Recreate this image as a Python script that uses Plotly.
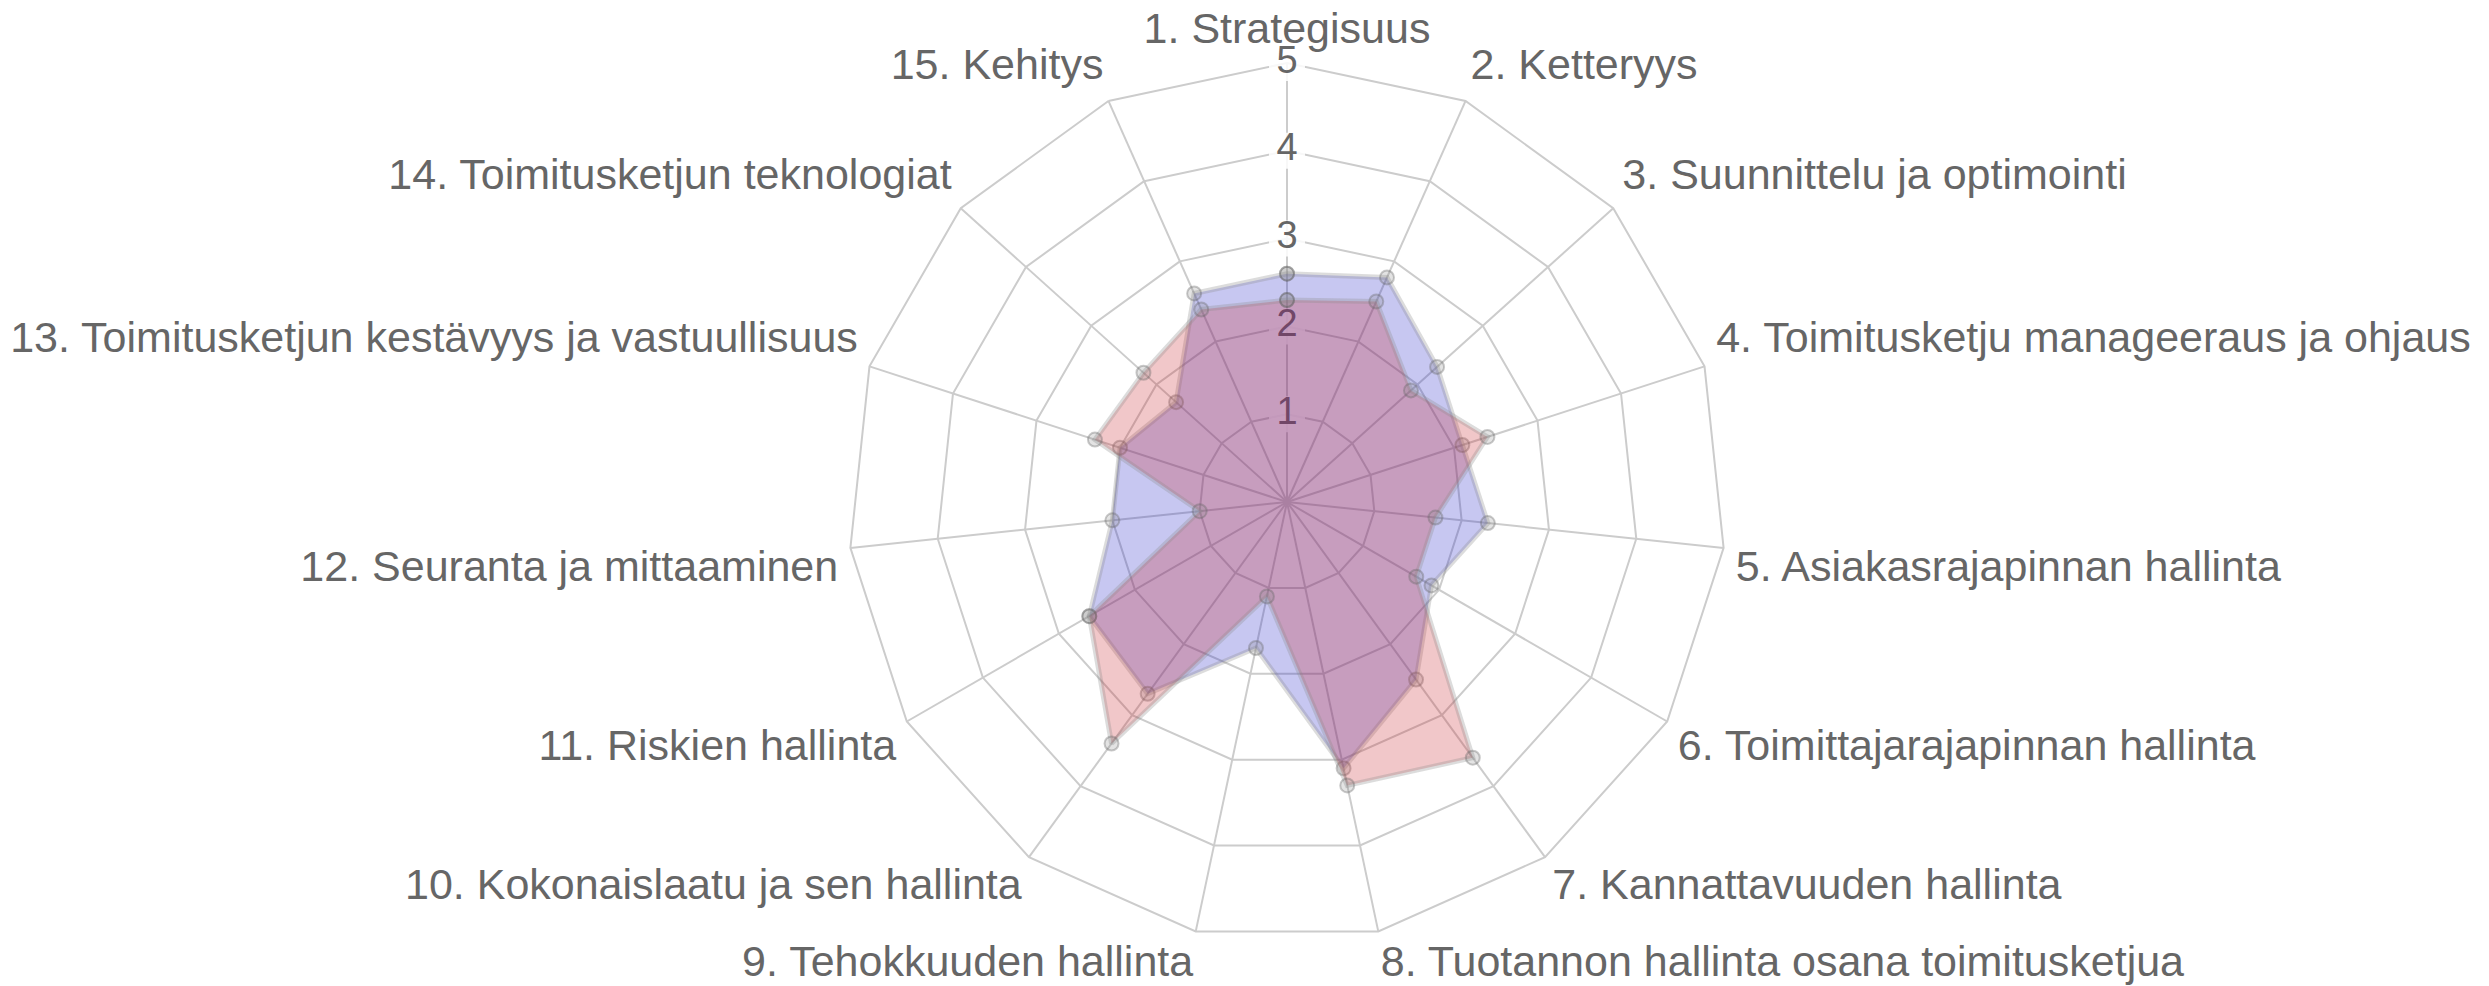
import plotly.graph_objects as go

categories = [
    "1. Strategisuus",
    "2. Ketteryys",
    "3. Suunnittelu ja optimointi",
    "4. Toimitusketju manageeraus ja ohjaus",
    "5. Asiakasrajapinnan hallinta",
    "6. Toimittajarajapinnan hallinta",
    "7. Kannattavuuden hallinta",
    "8. Tuotannon hallinta osana toimitusketjua",
    "9. Tehokkuuden hallinta",
    "10. Kokonaislaatu ja sen hallinta",
    "11. Riskien hallinta",
    "12. Seuranta ja mittaaminen",
    "13. Toimitusketjun kestävyys ja vastuullisuus",
    "14. Toimitusketjun teknologiat",
    "15. Kehitys",
]

blue_values = [2.6, 2.8, 2.3, 2.1, 2.3, 1.9, 2.5, 3.1, 1.7, 2.7, 2.6, 2.0, 2.0, 1.7, 2.6]
red_values = [2.3, 2.5, 1.9, 2.4, 1.7, 1.7, 3.6, 3.3, 1.1, 3.4, 2.6, 1.0, 2.3, 2.2, 2.4]

radial_ticks = [1, 2, 3, 4, 5]
radial_tick_labels = ["1", "2", "3", "4", "5"]
r_max = 5
r_label = 5.14

W, H = 2489, 986
cx, cy, R5 = 1279, 494, 439
R = R5 * r_label / r_max
FONT = "Liberation Sans, Arial, sans-serif"
GRID = "#cccccc"

n = len(categories)
label_positions = []
label_r = []
for i in range(n):
    a = 360.0 * i / n
    if a == 0:
        label_positions.append("top center")
        label_r.append(r_label - 0.03)
    elif a < 90:
        label_positions.append("top right")
        label_r.append(r_label)
    elif a < 180:
        label_positions.append("bottom right")
        label_r.append(r_label)
    elif a < 270:
        label_positions.append("bottom left")
        label_r.append(r_label)
    else:
        label_positions.append("top left")
        label_r.append(r_label)

fig = go.Figure()

# spokes from the centre to the outer ring
spoke_r, spoke_t = [], []
for c in categories:
    spoke_r += [0, r_max, None]
    spoke_t += [c, c, None]
fig.add_trace(go.Scatterpolar(
    r=spoke_r, theta=spoke_t, mode="lines",
    line=dict(color=GRID, width=2), hoverinfo="skip", showlegend=False, connectgaps=False,
))

# tick label backdrops and labels (drawn below the fills)
fig.add_trace(go.Scatterpolar(
    r=radial_ticks, theta=[categories[0]] * len(radial_ticks),
    mode="markers",
    marker=dict(symbol="square", size=36, color="rgba(255,255,255,0.85)", line=dict(width=0)),
    hoverinfo="skip", showlegend=False,
))
fig.add_trace(go.Scatterpolar(
    r=radial_ticks, theta=[categories[0]] * len(radial_ticks),
    mode="text", text=radial_tick_labels,
    textfont=dict(family=FONT, size=38, color="#666666"),
    hoverinfo="skip", showlegend=False,
))

def closed(v):
    return v + [v[0]]

fig.add_trace(go.Scatterpolar(
    r=closed(blue_values), theta=closed(categories),
    mode="lines+markers", fill="toself",
    fillcolor="rgba(30,30,200,0.25)",
    line=dict(color="rgba(140,140,140,0.3)", width=5),
    marker=dict(size=14, color="rgba(128,128,128,0.22)", line=dict(color="rgba(100,100,100,0.35)", width=2)),
    showlegend=False,
))
fig.add_trace(go.Scatterpolar(
    r=closed(red_values), theta=closed(categories),
    mode="lines+markers", fill="toself",
    fillcolor="rgba(200,30,40,0.25)",
    line=dict(color="rgba(140,140,140,0.3)", width=5),
    marker=dict(size=14, color="rgba(128,128,128,0.22)", line=dict(color="rgba(100,100,100,0.35)", width=2)),
    showlegend=False,
))

# category labels just outside the outer ring
fig.add_trace(go.Scatterpolar(
    r=label_r, theta=categories,
    mode="text", text=categories, textposition=label_positions,
    textfont=dict(family=FONT, size=43, color="#666666"),
    cliponaxis=False, hoverinfo="skip", showlegend=False,
))

fig.update_layout(
    width=W, height=H,
    margin=dict(l=0, r=0, t=0, b=0),
    paper_bgcolor="white",
    showlegend=False,
    polar=dict(
        domain=dict(x=[(cx - R) / W, (cx + R) / W], y=[(H - cy - R) / H, (H - cy + R) / H]),
        bgcolor="white",
        gridshape="linear",
        radialaxis=dict(
            range=[0, r_label], tickvals=radial_ticks, showticklabels=False, ticks="",
            showline=False, gridcolor=GRID, gridwidth=2, layer="below traces",
        ),
        angularaxis=dict(
            direction="clockwise", rotation=90, categoryorder="array", categoryarray=categories,
            showticklabels=False, ticks="", showline=False, showgrid=False,
            layer="below traces",
        ),
    ),
)

fig.write_html("out.html")
